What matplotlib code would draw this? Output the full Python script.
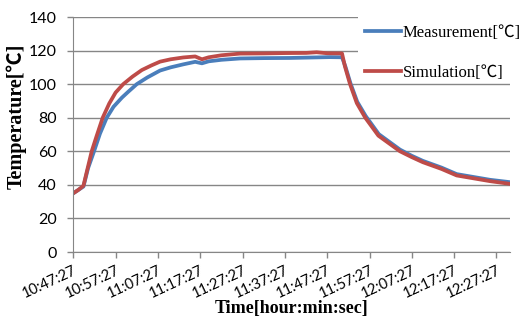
import matplotlib.pyplot as plt
from matplotlib.patches import Rectangle

# minutes after 10:47:27
meas_t = [0, 1.2, 2.4, 3.5, 4.9, 6.3, 7.9, 9.5, 11.5, 13, 15, 17.5, 20.5, 23, 26, 28.8, 30.4, 32,
          35, 39.4, 45, 51.2, 55, 60.6, 63.5, 64.3, 65.5, 67.1, 69.1, 72.2, 77.2, 80, 82.6, 87,
          90.6, 98.5, 103.2]
meas_v = [35, 37, 39, 50, 60, 70.5, 80, 86.5, 92, 95.5, 100, 104, 108.1, 110, 111.8, 113.3, 112.4, 113.6,
          114.5, 115.3, 115.5, 115.6, 115.8, 116.1, 116, 110.5, 100.5, 89.5, 81, 70.2, 61, 57.3, 54.3, 50.3,
          46.4, 43, 41.6]

sim_t = [0, 1.2, 2.4, 3.3, 4.35, 5.5, 6.95, 8.5, 10, 11.8, 14, 16.2, 18.5, 20.5, 23, 26, 28.8, 30.4,
         32, 35, 39.4, 45, 50, 55, 57.5, 60, 63.5, 64.2, 65.4, 67, 69, 72.1, 77.2, 80, 82.6, 87,
         90.6, 98.5, 103.2]
sim_v = [35, 37, 39.5, 49, 60, 69, 80, 88.5, 95, 100, 104.5, 108.4, 111.2, 113.4, 114.8, 115.9, 116.5, 114.8,
         116, 117.2, 118.2, 118.3, 118.5, 118.6, 119, 118.4, 118.3, 110.5, 100, 88.7, 80, 69.3, 60, 56.5, 53.5, 49.5,
         45.6, 42.2, 40.6]

tick_min = [0, 10, 20, 30, 40, 50, 60, 70, 80, 90, 100]
tick_labels = ['10:47:27', '10:57:27', '11:07:27', '11:17:27', '11:27:27', '11:37:27',
               '11:47:27', '11:57:27', '12:07:27', '12:17:27', '12:27:27']

serif = ['Liberation Serif', 'Noto Sans CJK SC']
grey = '#868686'

fig = plt.figure(figsize=(5.31, 3.27), dpi=100)
ax = fig.add_axes([73.3 / 531, 1 - 252 / 327, 436.7 / 531, 235 / 327])

ax.plot(meas_t, meas_v, color='#4a7ebb', lw=2.7, label='Measurement[℃]')
ax.plot(sim_t, sim_v, color='#be4b48', lw=2.7, label='Simulation[℃]')

ax.set_xlim(0, 103.2)
ax.set_ylim(0, 140)
ax.set_yticks(range(0, 141, 20))
ax.set_xticks(tick_min)
ax.set_xticklabels(tick_labels, rotation=25, ha='right', rotation_mode='anchor',
                   family='Lato', fontsize=10.5)
for lab in ax.get_yticklabels():
    lab.set_family('Lato')
    lab.set_fontsize(11.5)

ax.grid(axis='y', color=grey, lw=1)
ax.set_axisbelow(True)
for s in ['top', 'right']:
    ax.spines[s].set_visible(False)
for s in ['left', 'bottom']:
    ax.spines[s].set_color(grey)
ax.tick_params(axis='both', color=grey, length=4, width=1)
ax.tick_params(axis='y', pad=8)
ax.tick_params(axis='x', pad=4)

ax.set_xlabel('Time[hour:min:sec]', family=serif, fontweight='bold', fontsize=13, labelpad=0)
ax.set_ylabel('Temperature[℃]', family=serif, fontweight='bold', fontsize=14.5)
ax.yaxis.set_label_coords((27 - 73.3) / 436.7, (252 - 116) / 235)

# white legend area that hides the top gridlines (Excel-style)
fig.add_artist(Rectangle((358 / 531, 1 - 80 / 327), 1, 72 / 327, transform=fig.transFigure,
                         facecolor='white', edgecolor='none', zorder=1))
h, l = ax.get_legend_handles_labels()
fig.legend(h, l, loc='upper left', bbox_to_anchor=(353 / 531, 1 - 13 / 327),
           frameon=False, borderaxespad=0, handlelength=2.2, handletextpad=0.1,
           labelspacing=1.45, borderpad=0.7, prop={'family': serif, 'size': 12})

fig.savefig('out.png', dpi=100)
